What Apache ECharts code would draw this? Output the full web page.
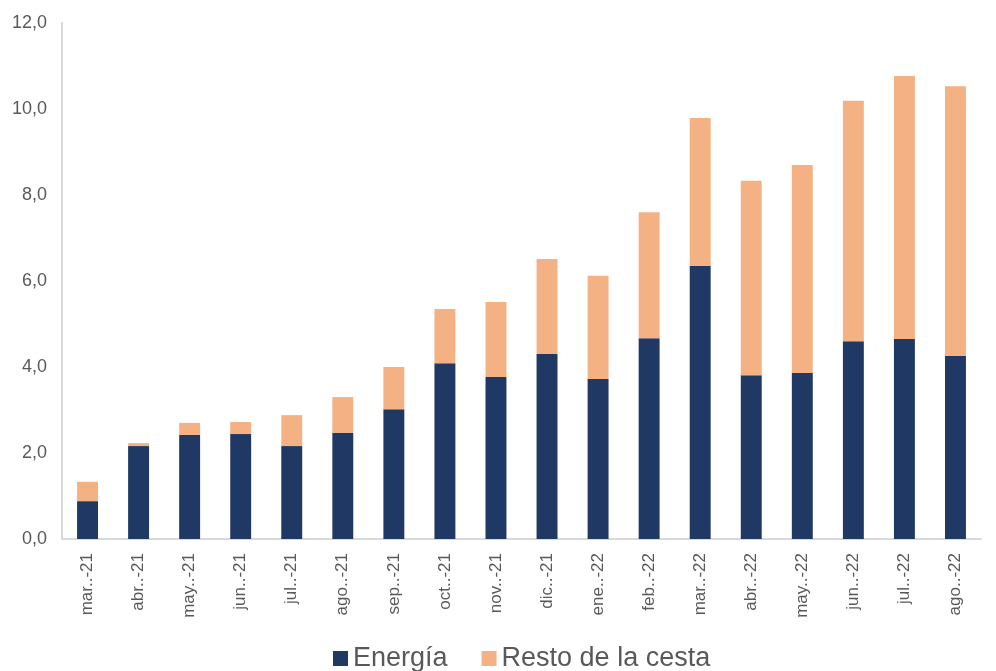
<!DOCTYPE html>
<html>
<head>
<meta charset="utf-8">
<script src="https://cdn.jsdelivr.net/npm/echarts@6/dist/echarts.min.js"></script>
<style>
  html, body { margin: 0; padding: 0; background: #fff; }
  #chart { width: 996px; height: 671px; }
</style>
</head>
<body>
<div id="chart"></div>
<script>
// meses
const categories = ['mar..-21', 'abr..-21', 'may..-21', 'jun..-21', 'jul..-21', 'ago..-21', 'sep..-21', 'oct..-21', 'nov..-21',
    'dic..-21', 'ene..-22', 'feb..-22', 'mar..-22', 'abr..-22', 'may..-22', 'jun..-22', 'jul..-22', 'ago..-22'];
const energia = [0.88, 2.16, 2.42, 2.44, 2.16, 2.47, 3.02, 4.09, 3.77, 4.30, 3.72, 4.67, 6.35, 3.81, 3.86, 4.60, 4.65, 4.26];
const resto = [0.45, 0.07, 0.28, 0.28, 0.72, 0.83, 0.98, 1.26, 1.74, 2.21, 2.40, 2.93, 3.44, 4.52, 4.84, 5.59, 6.12, 6.27];

let myChart = echarts.init(document.getElementById('chart'));
let option = {
    animation: false,
    textStyle: { fontFamily: 'Liberation Sans, Arial, sans-serif' },
    grid: {
        left: 62,
        right: 15,
        top: 23,
        bottom: 132
    },
    legend: {
        bottom: -6,
        left: 328,
        itemWidth: 15,
        itemHeight: 15,
        itemGap: 34,
        icon: 'rect',
        textStyle: { fontSize: 27, color: '#595959' },
        data: ['Energía', 'Resto de la cesta']
    },
    xAxis: {
        type: 'category',
        data: categories,
        axisLine: { lineStyle: { color: '#d9d9d9', width: 2 } },
        axisTick: { show: false },
        axisLabel: {
            rotate: 90,
            color: '#595959',
            fontSize: 17,
            margin: 14
        }
    },
    yAxis: {
        type: 'value',
        min: 0,
        max: 12,
        interval: 2,
        axisLine: { show: true, lineStyle: { color: '#d9d9d9', width: 2 } },
        axisTick: { show: false },
        splitLine: { show: false },
        axisLabel: {
            color: '#595959',
            fontSize: 18,
            margin: 15,
            formatter: (v) => v.toFixed(1).replace('.', ',')
        }
    },
    series: [
        {
            name: 'Energía',
            type: 'bar',
            stack: 'total',
            barWidth: '41%',
            itemStyle: { color: '#203864' },
            data: energia
        },
        {
            name: 'Resto de la cesta',
            type: 'bar',
            stack: 'total',
            barWidth: '41%',
            itemStyle: { color: '#F4B183' },
            data: resto
        }
    ]
};
myChart.setOption(option);
</script>
</body>
</html>
